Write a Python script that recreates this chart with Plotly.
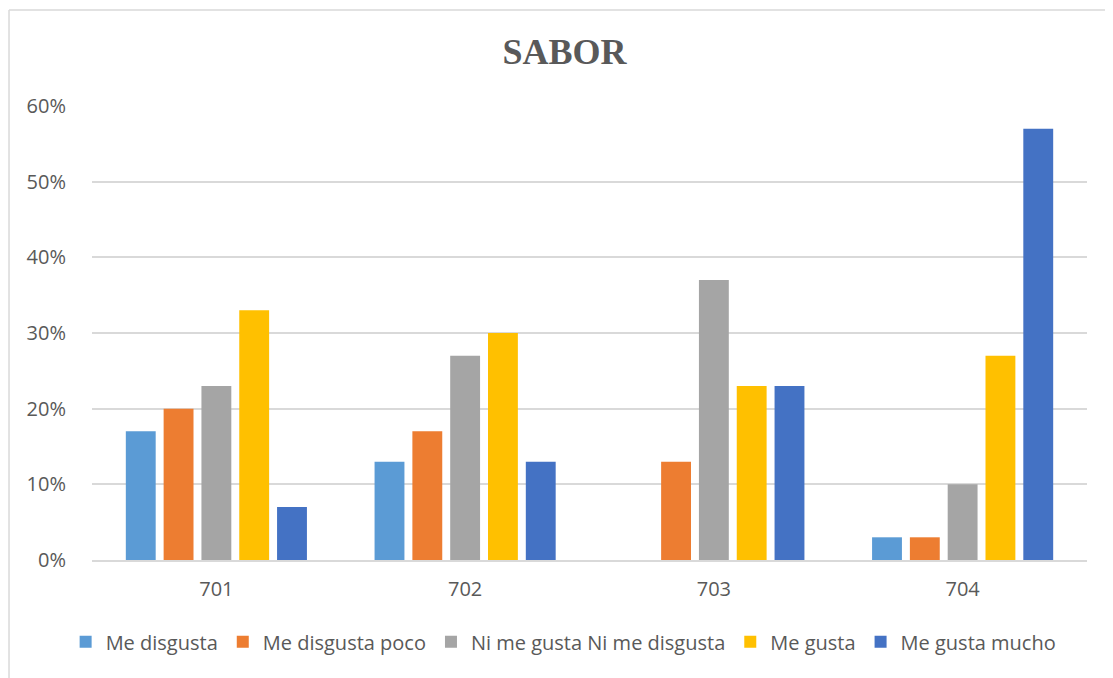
import plotly.graph_objects as go

grupos = ['701', '702', '703', '704']
me_disgusta = [0.17, 0.13, 0.0, 0.03]
me_disgusta_poco = [0.20, 0.17, 0.13, 0.03]
ni_ni = [0.23, 0.27, 0.37, 0.10]
me_gusta = [0.33, 0.30, 0.23, 0.27]
me_gusta_mucho = [0.07, 0.13, 0.23, 0.57]

series = [
    ('Me disgusta', me_disgusta, '#5B9BD5'),
    ('Me disgusta poco', me_disgusta_poco, '#ED7D31'),
    ('Ni me gusta Ni me disgusta', ni_ni, '#A5A5A5'),
    ('Me gusta', me_gusta, '#FFC000'),
    ('Me gusta mucho', me_gusta_mucho, '#4472C4'),
]

gris = '#595959'

fig = go.Figure()
for nombre, valores, color in series:
    fig.add_trace(go.Bar(x=grupos, y=valores, name=nombre,
                         marker=dict(color=color, line=dict(width=0))))

# la página tiene un margen de 8px, se compensa en los márgenes
fig.update_layout(
    width=1113, height=678,
    margin=dict(l=84, r=34, t=98, b=126),
    paper_bgcolor='white',
    plot_bgcolor='white',
    barmode='group',
    bargap=0.24,
    bargroupgap=0.21,
    font=dict(family='Open Sans', size=20, color=gris),
    title=dict(text='<b>SABOR</b>', x=0.5, xanchor='center', y=0.936, yanchor='middle',
               font=dict(family='Liberation Serif', size=36, color=gris)),
    legend=dict(orientation='h', x=0.474, xanchor='center', y=-0.18, yanchor='middle',
                font=dict(size=20, color=gris), itemwidth=30, traceorder='normal'),
    showlegend=True,
)

fig.update_yaxes(range=[0, 0.6], dtick=0.1, tickformat='.0%',
                 showgrid=True, gridcolor='#D9D9D9', gridwidth=1.5,
                 zeroline=False, showline=False, ticks='', ticklabelstandoff=25)
fig.update_xaxes(showline=True, linecolor='#D9D9D9', linewidth=1.5,
                 ticks='', showgrid=False, ticklabelstandoff=10)

# borde del área del gráfico (recortado a la derecha y abajo)
fig.add_shape(type='line', xref='paper', yref='paper',
              x0=-0.0834, x1=-0.0834, y0=-0.4, y1=1.2115,
              line=dict(color='#D9D9D9', width=1.5))
fig.add_shape(type='line', xref='paper', yref='paper',
              x0=-0.0834, x1=1.05, y0=1.2115, y1=1.2115,
              line=dict(color='#D9D9D9', width=1.5))

fig.write_html('out.html')
